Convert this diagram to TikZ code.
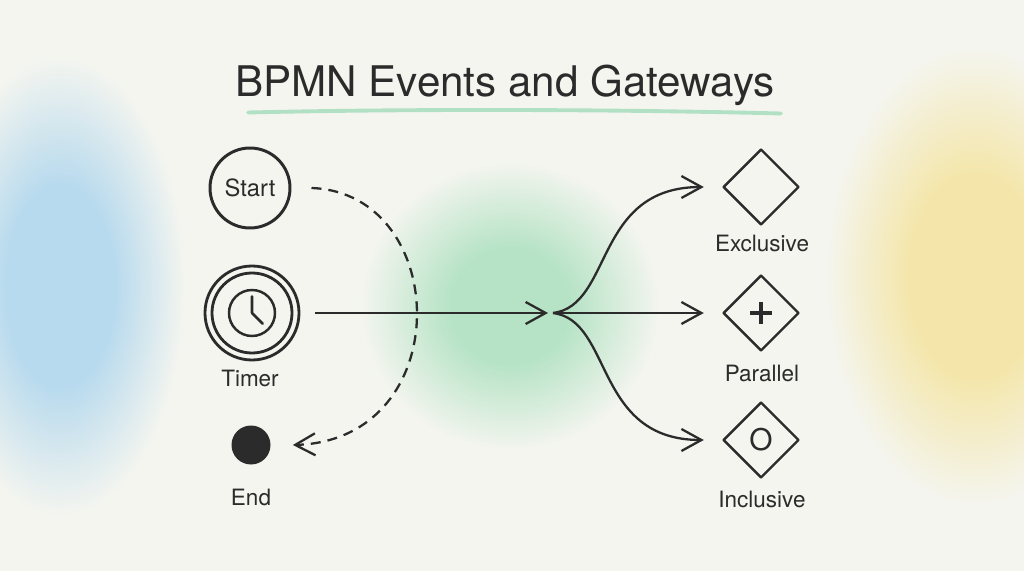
\documentclass[tikz,border=0pt]{standalone}
\usepackage{fontspec}
\setmainfont{TeX Gyre Heros}
\usetikzlibrary{arrows.meta,shapes.geometric}
\definecolor{paper}{HTML}{F4F5EF}
\definecolor{ink}{HTML}{2B2B2B}
\definecolor{blueblob}{HTML}{B8DAEE}
\definecolor{greenblob}{HTML}{B6E3C6}
\definecolor{yellowblob}{HTML}{F4E6AA}
\definecolor{titleline}{HTML}{A6DDBE}
\pgfdeclareradialshading{blueshade}{\pgfpoint{0bp}{0bp}}{color(0bp)=(blueblob);color(11bp)=(blueblob);color(25bp)=(paper);color(50bp)=(paper)}
\pgfdeclareradialshading{greenshade}{\pgfpoint{0bp}{0bp}}{color(0bp)=(greenblob);color(10bp)=(greenblob);color(25bp)=(paper);color(50bp)=(paper)}
\pgfdeclareradialshading{yellowshade}{\pgfpoint{0bp}{0bp}}{color(0bp)=(yellowblob);color(11bp)=(yellowblob);color(25bp)=(paper);color(50bp)=(paper)}

\begin{document}
\begin{tikzpicture}[
        line join=round,
        event/.style={circle,draw=ink,line width=1.7pt,inner sep=0pt,minimum size=1.6cm,text=ink,font=\fontsize{13.5}{16}\selectfont},
        gateway/.style={diamond,draw=ink,line width=1.4pt,inner sep=0pt,minimum size=1.52cm},
        caption/.style={text=ink,font=\fontsize{12.8}{15}\selectfont},
        flow/.style={draw=ink,line width=1.3pt,-{Straight Barb[length=4mm,width=4.4mm,line width=1.3pt]}}
    ]
        \fill[paper] (0,0) rectangle (20.48,11.42);
        \useasboundingbox (0,0) rectangle (20.48,11.42);
        \shade[shading=blueshade] (1.2,5.7) ellipse (2.5 and 4.6);
        \shade[shading=greenshade] (10.2,5.3) ellipse (3.0 and 2.9);
        \shade[shading=yellowshade] (19.5,5.9) ellipse (3.0 and 4.6);

        \node[text=ink,font=\fontsize{24}{28}\selectfont] (title) at (10.1,9.72) {BPMN Events and Gateways};
        \draw[titleline,line width=2.2pt,line cap=round,opacity=0.85] (4.96,9.17) .. controls (8,9.24) and (12,9.24) .. (15.62,9.15);

        \node[event] (start) at (5.0,7.66) {Start};
        \node[event,minimum size=1.88cm,line width=1.6pt] (timer) at (5.04,5.16) {};
        \draw[ink,line width=1.6pt] (timer) circle (0.8);
        \draw[ink,line width=1.4pt] (timer) circle (0.46);
        \draw[ink,line width=1.5pt,line cap=round] (timer.center) -- ++(0,0.33) (timer.center) -- ++(-45:0.3);
        \node[caption] (timerlabel) at (5.0,3.86) {Timer};
        \node[circle,fill=ink,inner sep=0pt,minimum size=0.78cm] (end) at (5.02,2.52) {};
        \node[caption] (endlabel) at (5.02,1.48) {End};

        \coordinate (split) at (11.06,5.16);

        \node[gateway] (excl) at (15.22,7.68) {};
        \node[gateway] (par) at (15.22,5.16) {};
        \node[gateway] (incl) at (15.22,2.62) {};
        \draw[ink,line width=2.6pt] ([xshift=-0.22cm]par.center) -- ([xshift=0.22cm]par.center);
        \draw[ink,line width=2.6pt] ([yshift=-0.22cm]par.center) -- ([yshift=0.22cm]par.center);
        \node[text=ink,font=\fontsize{17}{20}\selectfont] (inclmark) at (incl) {O};
        \node[caption] (excllabel) at (15.24,6.56) {Exclusive};
        \node[caption] (parlabel) at (15.24,3.96) {Parallel};
        \node[caption] (incllabel) at (15.24,1.44) {Inclusive};

        \draw[flow,dash pattern=on 0.2cm off 0.14cm] ([xshift=0.4cm]start.east) .. controls +(2.8,-0.1) and +(3.3,0.1) .. ([xshift=0.44cm]end.east);
        \draw[flow] ([xshift=0.3cm]timer.east) -- ([xshift=-0.1cm]split);
        \draw[flow] (split) .. controls +(1.2,0.15) and +(-2.2,0) .. ([xshift=-0.36cm]excl.west);
        \draw[flow] (split) -- ([xshift=-0.36cm]par.west);
        \draw[flow] (split) .. controls +(1.2,-0.15) and +(-2.2,0) .. ([xshift=-0.36cm]incl.west);
    \end{tikzpicture}
\end{document}
